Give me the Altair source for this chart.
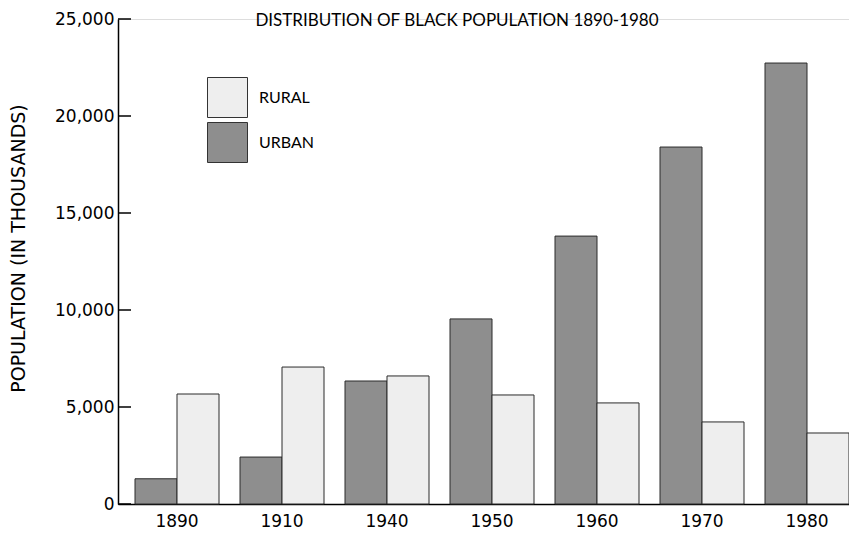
import altair as alt
import pandas as pd

years = ["1890", "1910", "1940", "1950", "1960", "1970", "1980"]
urban = [1300, 2420, 6340, 9540, 13810, 18400, 22730]
rural = [5670, 7060, 6600, 5620, 5210, 4230, 3660]
y_ticks = [0, 5000, 10000, 15000, 20000, 25000]
kinds = ["RURAL", "URBAN"]
title_text = "DISTRIBUTION OF BLACK POPULATION 1890-1980"
y_title = "POPULATION (IN THOUSANDS)"

rows = []
for yr, u, r in zip(years, urban, rural):
    rows.append({"year": yr, "kind": "URBAN", "value": u})
    rows.append({"year": yr, "kind": "RURAL", "value": r})
df = pd.DataFrame(rows)

LETTER_FONT = "Lato"
DIGIT_FONT = "DejaVu Sans"

y_scale = alt.Scale(domain=[0, 25000], nice=False, zero=True)
y_axis = alt.Axis(
    values=y_ticks,
    format=",.0f",
    ticks=False,
    grid=False,
    domainColor="black",
    domainWidth=1.5,
    labelFont=DIGIT_FONT,
    labelFontSize=17,
    labelColor="black",
    labelPadding=4,
    title=y_title,
    titleFont=DIGIT_FONT,
    titleFontSize=19,
    titleFontWeight="normal",
    titleColor="black",
    titleX=-100,
    titleY=229,
    titleAngle=270,
    titleAlign="center",
    titleBaseline="middle",
)

bars = alt.Chart(df).mark_bar(stroke="#2b2b2b", strokeWidth=1).encode(
    x=alt.X(
        "year:N",
        sort=years,
        scale=alt.Scale(paddingInner=0.2, paddingOuter=0.081, align=1),
        axis=alt.Axis(
            title=None,
            labelAngle=0,
            ticks=False,
            domainColor="black",
            domainWidth=1.5,
            labelFont=DIGIT_FONT,
            labelFontSize=17,
            labelColor="black",
            labelPadding=9,
        ),
    ),
    xOffset=alt.XOffset(
        "kind:N",
        sort=["URBAN", "RURAL"],
        scale=alt.Scale(paddingInner=0, paddingOuter=0),
    ),
    y=alt.Y("value:Q", scale=y_scale, axis=y_axis),
    fill=alt.Fill(
        "kind:N",
        scale=alt.Scale(domain=kinds, range=["#eeeeee", "#8e8e8e"]),
        legend=alt.Legend(
            title=None,
            orient="none",
            legendX=89,
            legendY=58,
            symbolType="square",
            symbolSize=1600,
            symbolStrokeColor="#333333",
            symbolStrokeWidth=1,
            symbolOpacity=1,
            labelFont=LETTER_FONT,
            labelFontSize=16,
            labelColor="black",
            labelOffset=11,
            rowPadding=0,
        ),
    ),
)

tick_df = pd.DataFrame({"value": y_ticks})
ticks = alt.Chart(tick_df).mark_rule(color="black", strokeWidth=1.5).encode(
    y=alt.Y("value:Q", scale=y_scale, axis=y_axis),
    x=alt.value(0),
    x2=alt.value(13),
)

title = alt.Chart(pd.DataFrame({"t": [title_text]})).mark_text(
    font=LETTER_FONT, fontSize=17, color="black", align="center", baseline="middle"
).encode(text="t:N", x=alt.value(339), y=alt.value(2))

chart = alt.layer(bars, ticks, title).properties(
    width=731,
    height=485,
    autosize=alt.AutoSizeParams(type="none"),
    padding={"left": 110, "top": 11, "right": 0, "bottom": 25},
).configure_view(stroke=None).configure(background="white")

chart.save("out.html", embed_options={"renderer": "svg", "actions": False})
